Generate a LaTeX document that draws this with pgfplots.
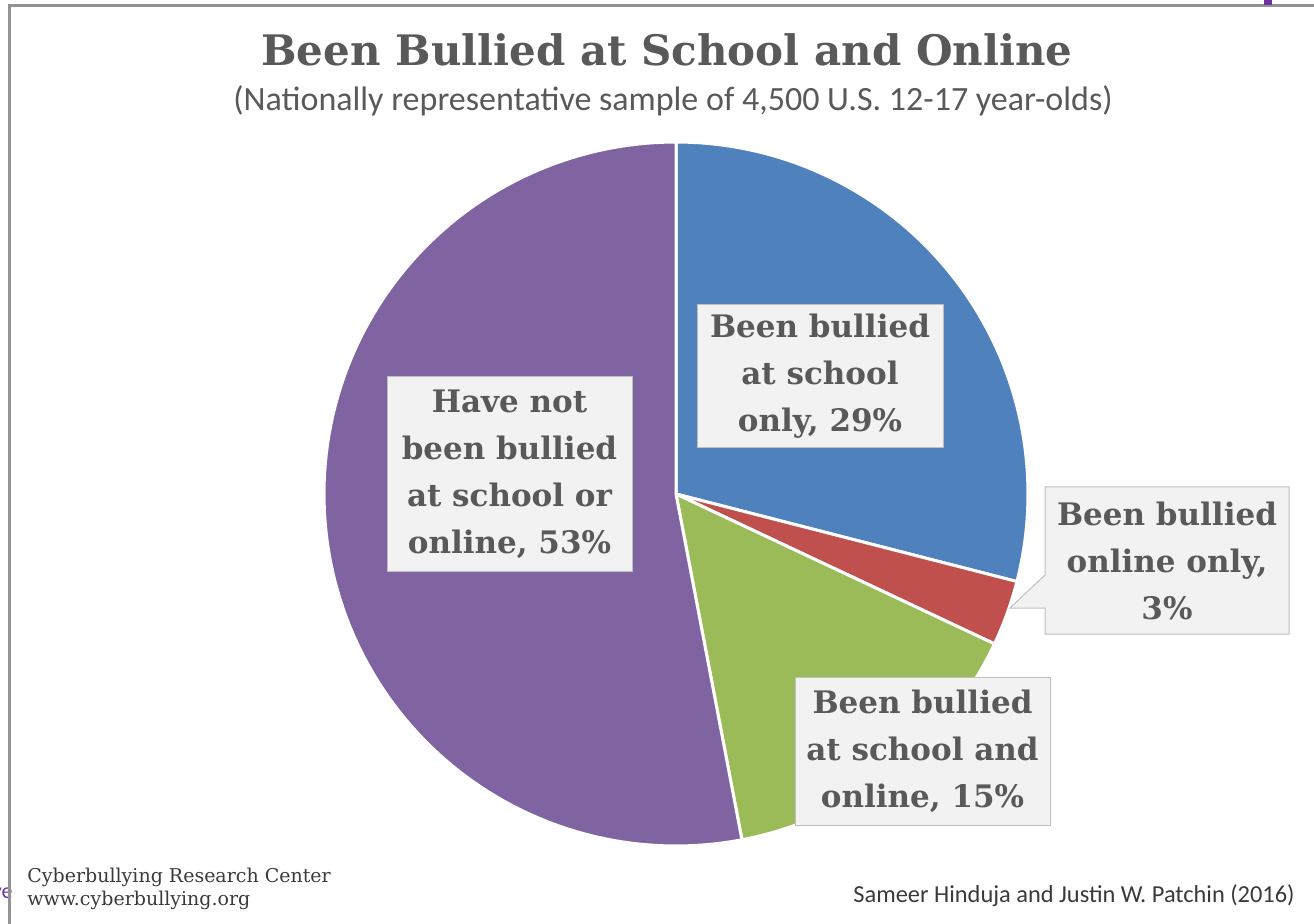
\documentclass[border=0pt]{standalone}
\usepackage{pgfplots}
\pgfplotsset{compat=1.18}
\usepackage{fontspec}
\setmainfont{DejaVu Serif}
\newfontfamily\calibri{Carlito}

\definecolor{cblue}{HTML}{4F81BD}
\definecolor{cred}{HTML}{C0504D}
\definecolor{cgreen}{HTML}{9BBB59}
\definecolor{cpurple}{HTML}{8064A2}
\definecolor{txt}{HTML}{595959}
\definecolor{foot}{HTML}{3A3A3A}
\definecolor{boxfill}{HTML}{F2F2F2}
\definecolor{boxline}{HTML}{BFBFBF}

% shares of the pie, percent
\def\pA{29} % school only
\def\pB{3}  % online only
\def\pC{15} % school and online
\def\pD{53} % neither

\begin{document}
\begin{tikzpicture}
% slice edges, degrees, clockwise from the top
\pgfmathsetmacro{\aA}{90}
\pgfmathsetmacro{\aB}{\aA-3.6*\pA}
\pgfmathsetmacro{\aC}{\aB-3.6*\pB}
\pgfmathsetmacro{\aD}{\aC-3.6*\pC}
\pgfmathsetmacro{\aE}{\aD-3.6*\pD}
\def\cx{676}\def\cy{429}\def\rr{352}
\begin{axis}[name=ax, x=0.5pt, y=0.5pt, scale only axis,
    xmin=0, xmax=1314, ymin=0, ymax=923,
    hide axis, clip=false]

  \addplot[draw=white, line width=1.5pt, fill=cblue, domain=\aB:\aA, samples=80, variable=\t]
    ({\cx+\rr*cos(\t)}, {\cy+\rr*sin(\t)}) -- (axis cs:\cx,\cy) -- cycle;
  \addplot[draw=white, line width=1.5pt, fill=cred, domain=\aC:\aB, samples=20, variable=\t]
    ({\cx+\rr*cos(\t)}, {\cy+\rr*sin(\t)}) -- (axis cs:\cx,\cy) -- cycle;
  \addplot[draw=white, line width=1.5pt, fill=cgreen, domain=\aD:\aC, samples=50, variable=\t]
    ({\cx+\rr*cos(\t)}, {\cy+\rr*sin(\t)}) -- (axis cs:\cx,\cy) -- cycle;
  \addplot[draw=white, line width=1.5pt, fill=cpurple, domain=\aE:\aD, samples=120, variable=\t]
    ({\cx+\rr*cos(\t)}, {\cy+\rr*sin(\t)}) -- (axis cs:\cx,\cy) -- cycle;

  % title
  \node[txt, font=\fontsize{21}{25}\selectfont\bfseries] at (axis cs:667,873) {Been Bullied at School and Online};
  \node[txt, font=\calibri\fontsize{17}{20}\selectfont] at (axis cs:673,822) {(Nationally representative sample of 4,500 U.S. 12-17 year-olds)};

  % data labels
  \tikzset{lab/.style={txt, inner sep=0pt, align=center, font=\fontsize{15.5}{23.5}\selectfont\bfseries}}
  \draw[boxline, fill=boxfill, line width=0.5pt] (axis cs:697,475) rectangle (axis cs:943,618);
  \node[lab] at (axis cs:820,546.5) {Been bullied\\at school\\only, 29\%};

  \draw[boxline, fill=boxfill, line width=0.5pt] (axis cs:1045,436) -- (axis cs:1289,436) -- (axis cs:1289,289)
     -- (axis cs:1045,289) -- (axis cs:1045,315) -- (axis cs:1010,315) -- (axis cs:1045,348) -- cycle;
  \node[lab] at (axis cs:1167,362.5) {Been bullied\\online only,\\3\%};

  \draw[boxline, fill=boxfill, line width=0.5pt] (axis cs:795,98) rectangle (axis cs:1050,246);
  \node[lab] at (axis cs:922.5,172) {Been bullied\\at school and\\online, 15\%};

  \draw[boxline, fill=boxfill, line width=0.5pt] (axis cs:387,351) rectangle (axis cs:632,546);
  \node[lab] at (axis cs:509.5,448.5) {Have not\\been bullied\\at school or\\online, 53\%};

  % footers
  \node[foot, anchor=base west, inner sep=0pt, font=\fontsize{9.5}{11}\selectfont] at (axis cs:27,41) {Cyberbullying Research Center};
  \node[foot, anchor=base west, inner sep=0pt, font=\fontsize{9.5}{11}\selectfont] at (axis cs:27,18) {www.cyberbullying.org};
  \node[foot, anchor=base west, inner sep=0pt, font=\calibri\fontsize{12.2}{14}\selectfont] at (axis cs:853,21) {Sameer Hinduja and Justin W. Patchin (2016)};
  \node[color={rgb,255:red,112;green,48;blue,160}, anchor=base east, inner sep=0pt, font=\calibri\fontsize{11}{13}\selectfont] at (axis cs:13,25) {ve};

  % frame of the chart area
  \draw[gray!85, line width=1.5pt] (axis cs:9.5,-10) -- (axis cs:9.5,917) -- (axis cs:1330,917);
  \fill[color={rgb,255:red,112;green,48;blue,160}] (axis cs:1264,918) rectangle (axis cs:1272,930);
\end{axis}
\pgfresetboundingbox
\useasboundingbox (ax.south west) rectangle (ax.north east);
\end{tikzpicture}
\end{document}
